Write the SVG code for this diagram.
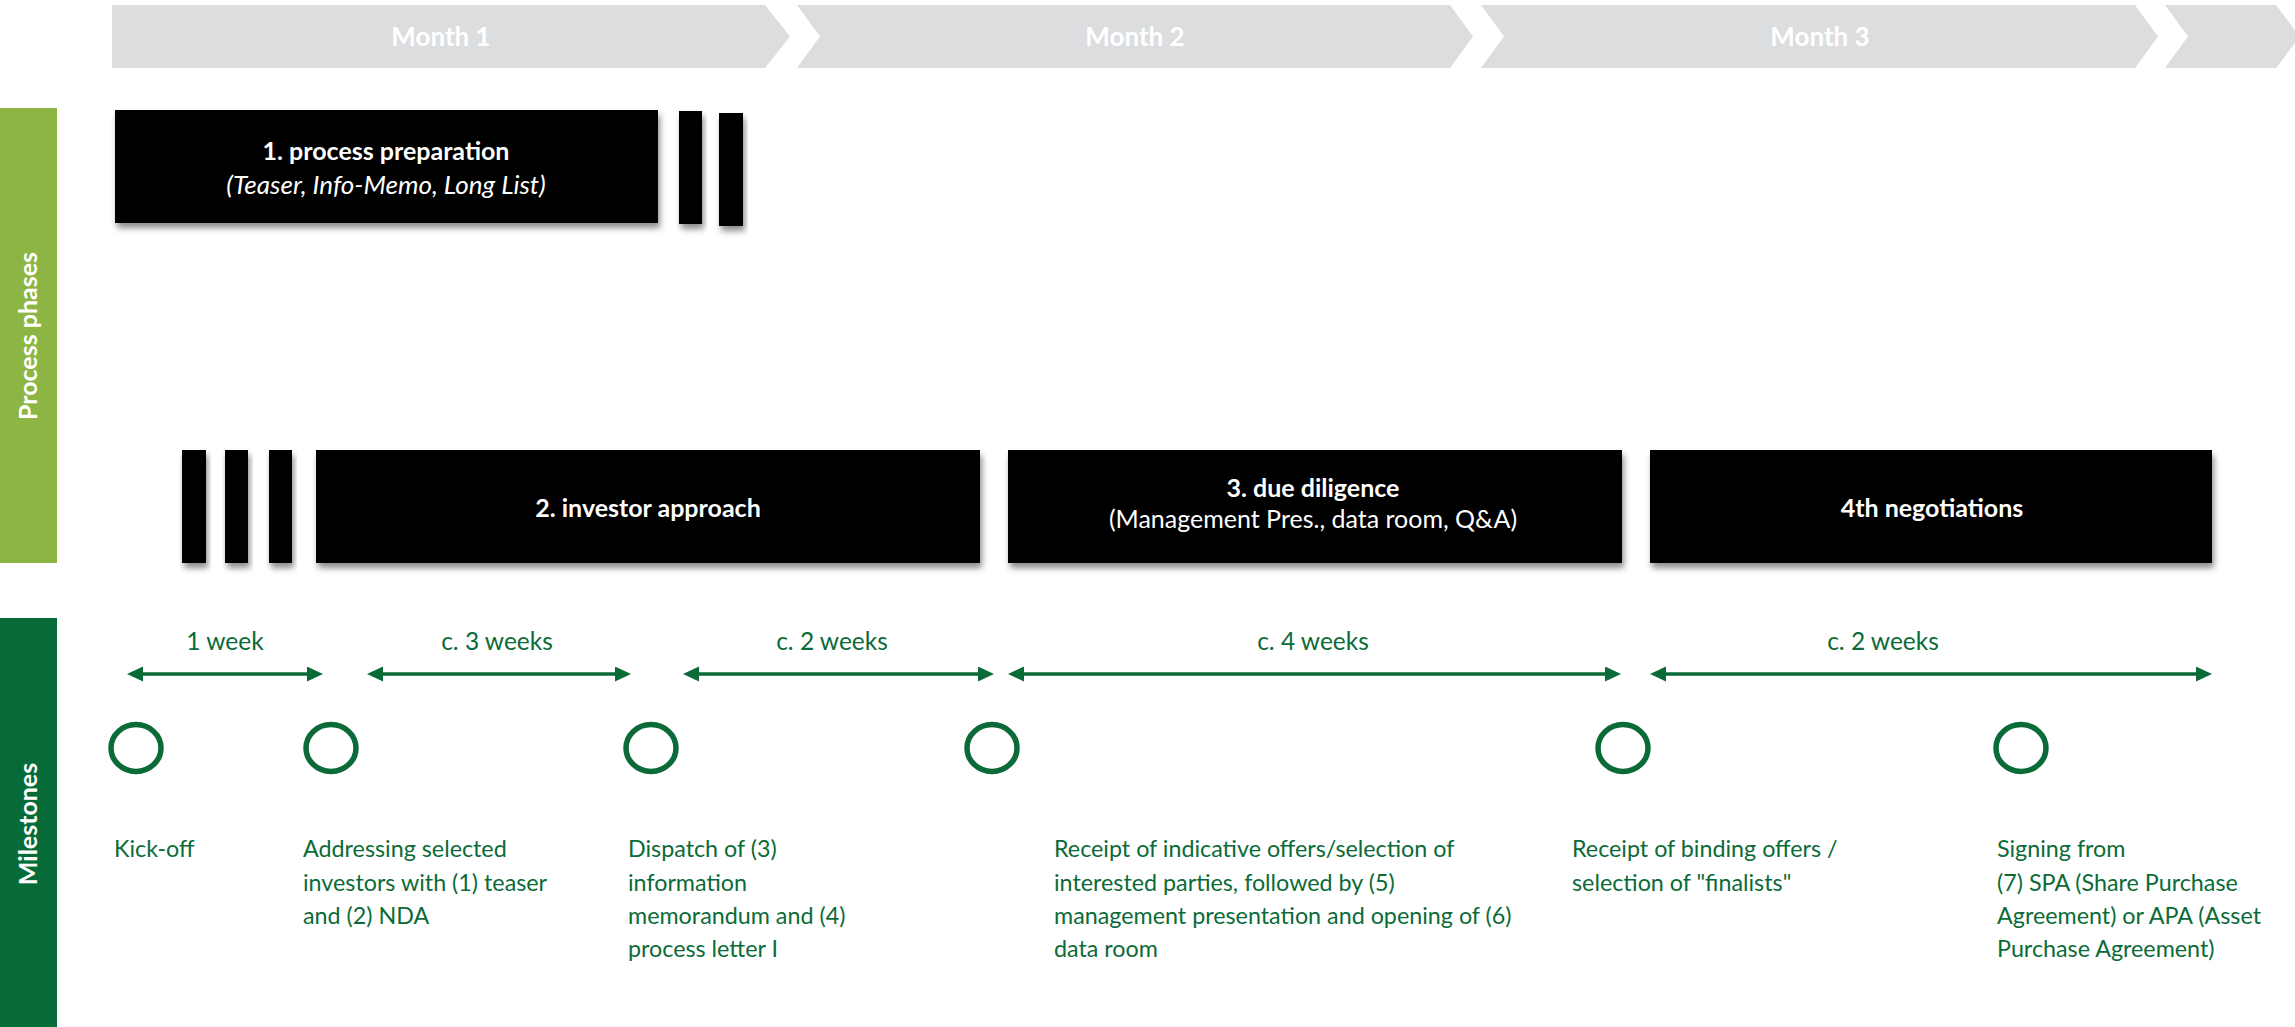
<svg xmlns="http://www.w3.org/2000/svg" width="2295" height="1027" viewBox="0 0 2295 1027">
<style>
.chev{fill:#DCDDDF}
.mtxt{font-family:Lato,"Open Sans","Liberation Sans",sans-serif;font-size:26px;font-weight:bold;fill:#ffffff;text-anchor:middle}
.box{fill:#000000;filter:url(#sh)}
.btxt{font-family:Lato,"Open Sans","Liberation Sans",sans-serif;font-size:25px;fill:#ffffff;text-anchor:middle}
.b{font-weight:bold}
.i{font-style:italic;font-size:26px}
.side{font-family:Lato,"Open Sans","Liberation Sans",sans-serif;font-size:25px;font-weight:bold;fill:#ffffff;text-anchor:middle}
.arr{stroke:#0B6B38;stroke-width:3.5;fill:none;marker-start:url(#ah);marker-end:url(#ah)}
.dur{font-family:Lato,"Open Sans","Liberation Sans",sans-serif;font-size:24.5px;fill:#0B6B38;text-anchor:middle}
.ms{fill:none;stroke:#0B6B38;stroke-width:5.5}
.mt{font-family:Lato,"Open Sans","Liberation Sans",sans-serif;font-size:23.3px;fill:#0B6B38}
</style>
<defs>
<filter id="sh" x="-10%" y="-20%" width="130%" height="150%">
<feDropShadow dx="2" dy="5" stdDeviation="3" flood-color="#000000" flood-opacity="0.45"/>
</filter>
<marker id="ah" markerUnits="userSpaceOnUse" markerWidth="16" markerHeight="16" refX="6" refY="7.5" orient="auto-start-reverse">
<path d="M0,0 L16,7.5 L0,15 Z" fill="#0B6B38"/>
</marker>
</defs>

<g id="timeline">
<g id="month1">
<polygon class="chev" points="112,5 765,5 790,36.5 765,68 112,68"/>
<text class="mtxt" x="441" y="46">Month 1</text>
</g>
<g id="month2">
<polygon class="chev" points="797,5 1450,5 1473,36.5 1450,68 797,68 820,36.5"/>
<text class="mtxt" x="1135" y="46">Month 2</text>
</g>
<g id="month3">
<polygon class="chev" points="1481,5 2135,5 2158,36.5 2135,68 1481,68 1504,36.5"/>
<text class="mtxt" x="1820" y="46">Month 3</text>
</g>
<g id="month-more">
<polygon class="chev" points="2165,5 2276,5 2295,30 2295,43 2276,68 2165,68 2188,36.5"/>
</g>
</g>

<g id="side-process-phases">
<rect x="0" y="108" width="57" height="455" fill="#8DB543"/>
<text class="side" transform="translate(28,336) rotate(-90)" dy="9">Process phases</text>
</g>
<g id="side-milestones">
<rect x="0" y="618" width="57" height="409" fill="#066B38"/>
<text class="side" transform="translate(28,824) rotate(-90)" dy="9">Milestones</text>
</g>

<g id="phase1">
<rect class="box" x="115" y="110" width="543" height="113"/>
<rect class="box" x="679" y="111" width="23" height="113"/>
<rect class="box" x="719" y="113" width="24" height="113"/>
<text class="btxt b" x="386" y="160">1. process preparation</text>
<text class="btxt i" x="386" y="194">(Teaser, Info-Memo, Long List)</text>
</g>

<g id="phase2">
<rect class="box" x="182" y="450" width="24" height="113"/>
<rect class="box" x="225" y="450" width="23" height="113"/>
<rect class="box" x="269" y="450" width="23" height="113"/>
<rect class="box" x="316" y="450" width="664" height="113"/>
<text class="btxt b" x="648" y="517">2. investor approach</text>
</g>

<g id="phase3">
<rect class="box" x="1008" y="450" width="614" height="113"/>
<text class="btxt b" x="1313" y="497">3. due diligence</text>
<text class="btxt" x="1313" y="528">(Management Pres., data room, Q&amp;A)</text>
</g>

<g id="phase4">
<rect class="box" x="1650" y="450" width="562" height="113"/>
<text class="btxt b" x="1932" y="517">4th negotiations</text>
</g>

<g id="connectors">
<line class="arr" x1="137" y1="674" x2="313" y2="674"/>
<line class="arr" x1="377" y1="674" x2="621" y2="674"/>
<line class="arr" x1="693" y1="674" x2="984" y2="674"/>
<line class="arr" x1="1018" y1="674" x2="1611" y2="674"/>
<line class="arr" x1="1660" y1="674" x2="2202" y2="674"/>
<text class="dur" x="225" y="650">1 week</text>
<text class="dur" x="497" y="650">c. 3 weeks</text>
<text class="dur" x="832" y="650">c. 2 weeks</text>
<text class="dur" x="1313" y="650">c. 4 weeks</text>
<text class="dur" x="1883" y="650">c. 2 weeks</text>
</g>

<g id="milestone1">
<ellipse class="ms" cx="136" cy="748" rx="25" ry="23.5"/>
<text class="mt" x="114" y="857">Kick-off</text>
</g>
<g id="milestone2">
<ellipse class="ms" cx="331" cy="748" rx="25" ry="23.5"/>
<text class="mt" x="303" y="857">Addressing selected</text>
<text class="mt" x="303" y="891">investors with (1) teaser</text>
<text class="mt" x="303" y="924">and (2) NDA</text>
</g>
<g id="milestone3">
<ellipse class="ms" cx="651" cy="748" rx="25" ry="23.5"/>
<text class="mt" x="628" y="857">Dispatch of (3)</text>
<text class="mt" x="628" y="891">information</text>
<text class="mt" x="628" y="924">memorandum and (4)</text>
<text class="mt" x="628" y="957">process letter I</text>
</g>
<g id="milestone4">
<ellipse class="ms" cx="992" cy="748" rx="25" ry="23.5"/>
<text class="mt" x="1054" y="857">Receipt of indicative offers/selection of</text>
<text class="mt" x="1054" y="891">interested parties, followed by (5)</text>
<text class="mt" x="1054" y="924">management presentation and opening of (6)</text>
<text class="mt" x="1054" y="957">data room</text>
</g>
<g id="milestone5">
<ellipse class="ms" cx="1623" cy="748" rx="25" ry="23.5"/>
<text class="mt" x="1572" y="857">Receipt of binding offers /</text>
<text class="mt" x="1572" y="891">selection of "finalists"</text>
</g>
<g id="milestone6">
<ellipse class="ms" cx="2021" cy="748" rx="25" ry="23.5"/>
<text class="mt" x="1997" y="857">Signing from</text>
<text class="mt" x="1997" y="891">(7) SPA (Share Purchase</text>
<text class="mt" x="1997" y="924">Agreement) or APA (Asset</text>
<text class="mt" x="1997" y="957">Purchase Agreement)</text>
</g>
</svg>
